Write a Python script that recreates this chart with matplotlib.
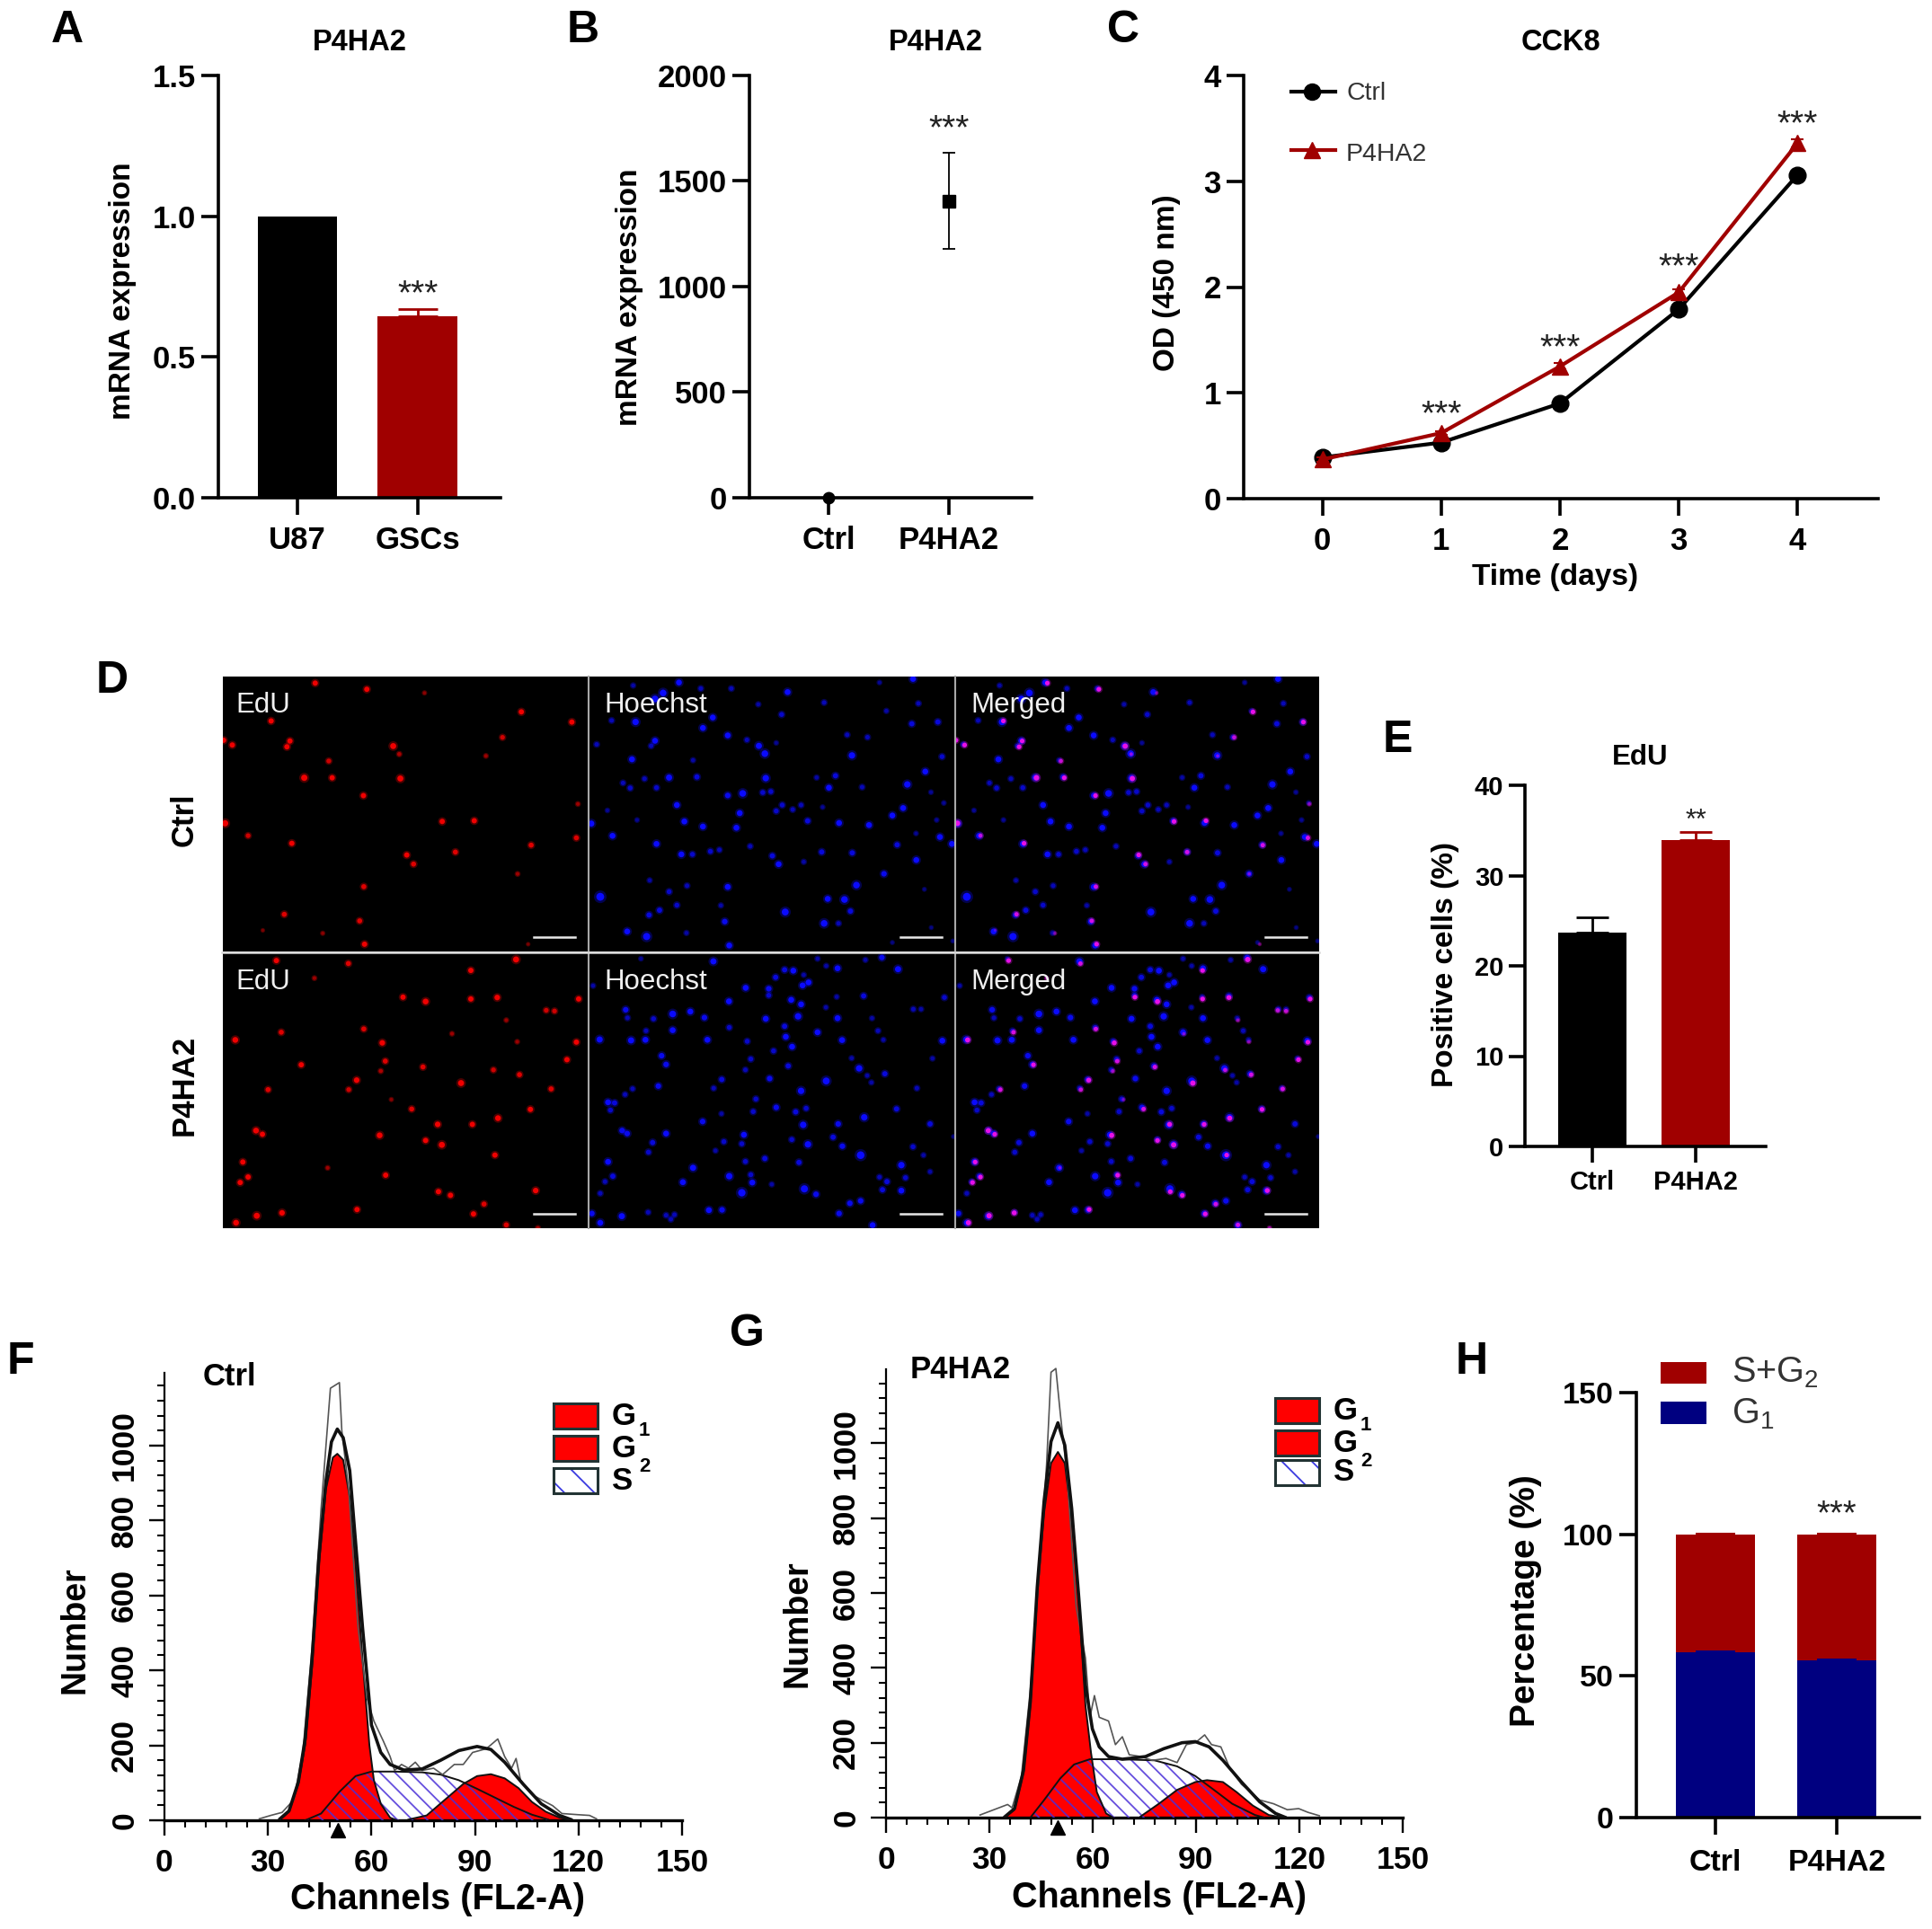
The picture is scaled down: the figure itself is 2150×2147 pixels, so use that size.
import numpy as np
import matplotlib
matplotlib.use('Agg')
import matplotlib.pyplot as plt
from matplotlib.patches import Rectangle
from matplotlib.ticker import MultipleLocator

plt.rcParams['font.family'] = ['Liberation Sans', 'DejaVu Sans']
plt.rcParams['font.weight'] = 'bold'
plt.rcParams['axes.labelweight'] = 'bold'
plt.rcParams['mathtext.default'] = 'regular'
plt.rcParams['hatch.linewidth'] = 1.3

W, H = 2150, 2147
DARK_RED = '#a00000'
NAVY = '#000080'

# --- bar / line panels ---
a_labels = ['U87', 'GSCs']
a_values = [1.0, 0.645]
a_err = [0.0, 0.025]

b_labels = ['Ctrl', 'P4HA2']
b_values = [1, 1405]
b_err = [8, 228]

c_days = [0, 1, 2, 3, 4]
c_ctrl = [0.39, 0.53, 0.90, 1.79, 3.06]
c_ctrl_err = [0.02, 0.02, 0.02, 0.03, 0.03]
c_p4ha2 = [0.37, 0.62, 1.25, 1.95, 3.36]
c_p4ha2_err = [0.02, 0.02, 0.03, 0.03, 0.04]
c_stars = [0.854, 1.48, 2.245, 3.595]

e_labels = ['Ctrl', 'P4HA2']
e_values = [23.7, 33.9]
e_err = [1.7, 0.9]

h_labels = ['Ctrl', 'P4HA2']
h_g1 = [58.3, 55.6]
h_g1_err = [0.3, 0.3]
h_sg2 = [41.7, 44.4]
h_sg2_err = [0.3, 0.3]

# --- flow cytometry, channel / count pairs ---
f_g1 = [(33.5, 2), (36.1, 23), (38.8, 97), (40.8, 202), (42.8, 412), (44.8, 685), (46.8, 884), (48.8, 968),
        (50.1, 978), (51.8, 962), (53.7, 862), (55.4, 683), (57.4, 431), (59.4, 200), (60.7, 107), (62.7, 44),
        (65.4, 7), (67.4, 0)]
f_g2 = [(70.7, 2), (76, 13), (81.3, 55), (86.6, 97), (90.6, 118), (94.6, 123), (98.6, 112), (102.6, 86),
        (106.5, 49), (110.5, 23), (114.5, 7), (117.8, 0)]
f_s = [(40.8, 0), (45.4, 18), (50.7, 76), (55.4, 118), (60, 130), (66.7, 130), (74.7, 128), (80, 122),
       (85.3, 107), (90.6, 84), (95.9, 60), (101.2, 36), (106.5, 15), (111.2, 2)]
f_fit = [(33.5, 4), (36.1, 25), (38.8, 102), (40.8, 218), (42.8, 433), (44.8, 706), (46.8, 905), (48.4, 1010),
         (50.1, 1044), (51.8, 1021), (53.7, 933), (57.4, 515), (60, 254), (62.7, 181), (65.4, 149), (69.4, 134),
         (74.7, 137), (80, 160), (85.3, 186), (90.6, 197), (94.6, 189), (98.6, 155), (103.9, 97), (109.2, 44),
         (114.5, 13), (117.8, 2)]
f_raw = [(27.5, 4), (30.8, 13), (34.1, 21), (37.5, 55), (40.1, 181), (42.8, 464), (45.4, 832), (48.1, 1153),
         (50.7, 1168), (51.4, 1040), (53.4, 882), (56.1, 515), (58.7, 326), (60.7, 265), (63.4, 212), (65.4, 170),
         (66.7, 133), (68.7, 149), (70.7, 139), (72.7, 155), (74.7, 133), (78, 139), (80.6, 122), (84, 149),
         (86.6, 149), (89.3, 181), (93.3, 191), (96.6, 217), (98.6, 170), (100.6, 139), (101.9, 165), (103.2, 107),
         (107.2, 65), (112.5, 39), (115.2, 18), (119.8, 15), (123.2, 13), (125.2, 4)]

g_g1 = [(34.6, 1), (37.3, 21), (39.9, 121), (41.9, 300), (43.9, 595), (45.9, 816), (47.9, 947), (49.9, 977),
        (51.9, 947), (53.9, 795), (55.9, 584), (57.9, 300), (59.5, 174), (61.2, 68), (63.9, 11), (65.9, 0)]
g_g2 = [(73.9, 3), (79.2, 37), (84.5, 74), (89.8, 95), (93.2, 100), (97.8, 95), (101.8, 68), (106.5, 32),
        (111.1, 7), (115.1, 0)]
g_s = [(41.9, 0), (45.9, 47), (50.6, 105), (54.6, 142), (59.2, 156), (67.2, 156), (77.9, 153), (84.5, 137),
       (89.8, 111), (95.2, 74), (100.5, 37), (107.1, 7), (109.8, 0)]
g_fit = [(34.6, 3), (37.3, 24), (39.9, 126), (41.9, 311), (43.9, 616), (45.9, 847), (47.9, 1005), (49.9, 1055),
         (51.9, 995), (53.9, 826), (55.9, 595), (57.9, 353), (59.9, 237), (61.9, 189), (64.6, 163), (68.6, 156),
         (75.3, 163), (80.6, 184), (85.9, 200), (89.8, 203), (93.8, 189), (97.8, 153), (103.2, 95), (108.5, 42),
         (113.1, 11), (115.8, 1)]
g_raw = [(27.3, 7), (31.3, 21), (35.3, 35), (36.6, 26), (39.3, 110), (41.9, 342), (44.6, 668), (46.6, 942),
         (47.9, 1190), (49.3, 1200), (50.6, 1079), (52.6, 911), (55.2, 563), (57.9, 426), (59.2, 268), (60.5, 326),
         (61.9, 268), (64.6, 258), (66.6, 195), (68.6, 216), (70.6, 168), (74, 163), (77.3, 153), (81.3, 158),
         (84.5, 147), (87.2, 195), (89.8, 200), (92.5, 221), (94.5, 195), (97.2, 189), (99.8, 132), (103.2, 89),
         (108.5, 47), (112.5, 37), (116.5, 21), (119.8, 24), (122.5, 14), (125.8, 5)]

red_ctrl = [(285, 48, 1), (422, 65, 1), (575, 75, .4), (832, 127, 1), (168, 152, 1), (966, 155, 1), (42, 205, 1),
            (65, 218, 1), (218, 207, 1), (210, 223, 1), (492, 221, 1.3), (508, 243, .6), (782, 197, .8), (738, 248, .5),
            (321, 262, .8), (256, 308, 1.4), (330, 308, 1), (511, 310, 1.3), (413, 357, 1), (982, 380, .5),
            (46, 433, 1.4), (622, 428, 1), (707, 426, 1), (107, 467, .8), (223, 488, 1), (978, 473, .9), (858, 493, .9),
            (528, 520, 1), (657, 512, .9), (546, 545, .9), (822, 572, .5), (414, 607, .9), (203, 683, .9), (403, 701, .9),
            (305, 735, .4), (146, 727, .3), (416, 765, 1), (850, 765, .3)]
red_p4ha2 = [(182, 805, 1), (373, 813, .9), (818, 802, 1.3), (698, 832, 1), (283, 853, .5), (518, 905, 1), (578, 917, 1.2),
             (698, 910, 1), (768, 906, 1.1), (984, 910, 1), (898, 941, .8), (920, 943, .8), (792, 968, .5), (195, 1001, .9),
             (414, 992, .9), (73, 1022, 1.2), (463, 1030, 1.1), (648, 1005, .5), (821, 1027, .5), (978, 1028, 1),
             (953, 1076, 1), (471, 1080, .9), (248, 1090, 1), (571, 1096, .9), (459, 1107, .6), (758, 1104, .8),
             (827, 1117, .9), (395, 1132, 1.1), (672, 1140, 1.3), (160, 1158, .9), (374, 1158, .8), (911, 1156, .9),
             (487, 1185, .4), (541, 1211, .9), (856, 1212, 1), (770, 1236, 1.2), (610, 1253, 1.1), (702, 1253, 1),
             (128, 1270, 1.2), (145, 1280, 1), (456, 1283, 1.2), (578, 1297, 1), (621, 1309, 1.3), (762, 1337, 1),
             (93, 1356, 1), (318, 1372, .5), (107, 1397, 1), (86, 1412, 1), (472, 1392, 1), (612, 1437, 1), (644, 1447, 1),
             (870, 1434, 1.1), (733, 1471, .9), (396, 1486, 1), (197, 1495, 1.1), (130, 1503, 1.3), (705, 1498, 1),
             (75, 1522, 1.2), (792, 1528, .9), (876, 1537, .6)]
blue_ctrl = [(305, 60, 1), (1087, 48, 1), (152, 70, .5), (378, 80, .6), (480, 80, .6), (668, 92, 1), (975, 60, .4),
             (252, 95, 1.3), (225, 115, 1.3), (790, 127, .6), (570, 133, .5), (1105, 130, .6), (998, 155, .5), (648, 167, .7),
             (418, 177, 1), (80, 187, .6), (160, 192, 1.2), (1083, 198, .8), (1170, 192, .8), (385, 212, 1), (468, 237, 1),
             (867, 235, .6), (935, 243, .6), (532, 252, .6), (630, 262, .4), (225, 255, 1), (30, 267, .6), (212, 272, .6),
             (572, 272, 1.1), (592, 298, 1.3), (883, 304, 1.2), (1184, 308, .7), (148, 317, 1), (352, 320, .5), (1128, 358, 1),
             (272, 378, 1.1), (365, 376, .8), (595, 380, 1.2), (765, 378, .5), (828, 372, .8), (190, 382, .6), (118, 396, .6),
             (142, 413, .7), (230, 412, .7), (806, 412, 1), (917, 410, .6), (1068, 401, 1.2), (518, 431, 1.3), (468, 438, .9),
             (585, 428, .7), (612, 425, .7), (1147, 427, .4), (298, 470, 1), (650, 470, .7), (713, 470, .6), (630, 490, .7),
             (685, 485, .6), (785, 477, .4), (1190, 463, .4), (1054, 480, 1), (66, 488, .4), (508, 497, 1), (1018, 505, 1),
             (165, 520, .4), (323, 525, 1), (735, 523, .8), (840, 530, 1), (385, 542, 1), (497, 546, 1), (940, 537, 1),
             (12, 532, 1.1), (1166, 520, .4), (83, 573, 1), (1097, 565, .4), (1177, 577, 1), (230, 600, 1), (1217, 600, 1),
             (1034, 603, .8), (543, 608, .6), (313, 635, 1), (350, 635, .7), (410, 625, .7), (440, 620, .6), (617, 640, .8),
             (782, 627, .8), (884, 630, .8), (722, 660, .5), (638, 668, 1), (1098, 654, 1), (990, 700, .9), (207, 722, .5),
             (332, 740, .6), (468, 744, 1), (898, 738, 1.3), (1125, 752, .3), (272, 760, .7), (42, 777, 1.8), (802, 784, 1),
             (858, 786, 1.3), (298, 805, .7), (445, 806, .5), (240, 822, .8), (205, 838, .8), (660, 828, 1.4), (878, 825, .8),
             (458, 860, .9), (790, 866, 1.3), (838, 866, .6), (132, 893, 1), (197, 910, 1.5), (330, 898, .5), (1148, 880, .3),
             (473, 940, 1), (1018, 930, .3), (1220, 925, .3)]
blue_p4ha2 = [(178, 18, .4), (420, 27, 1.1), (768, 18, .5), (983, 14, .9), (928, 22, .5), (18, 108, .5), (797, 42, .5),
              (658, 55, .8), (687, 58, 1), (835, 50, 1), (1037, 53, 1.1), (628, 80, .8), (722, 72, .5), (738, 97, 1),
              (718, 107, 1), (528, 115, 1), (605, 118, .9), (605, 140, .7), (922, 142, .8), (832, 145, .5), (1192, 147, .7),
              (472, 160, 1), (680, 155, 1), (713, 170, 1), (796, 180, .5), (127, 188, .9), (284, 202, 1.3), (343, 194, 1),
              (1088, 186, .6), (1114, 186, .5), (133, 215, .6), (220, 218, .7), (390, 214, .9), (595, 218, 1), (703, 210, 1.2),
              (835, 216, 1), (950, 216, .5), (658, 243, .8), (473, 247, .7), (195, 258, .6), (284, 256, 1), (768, 263, 1),
              (970, 258, .6), (40, 287, 1.1), (145, 290, 1.1), (193, 288, 1), (400, 288, 1), (533, 293, .7), (662, 278, 1),
              (850, 289, 1), (988, 288, .5), (1185, 291, 1), (683, 311, 1), (621, 325, .7), (247, 341, .9), (262, 370, .9),
              (545, 352, .7), (882, 349, .5), (1152, 350, .5), (670, 375, .8), (527, 388, .6), (907, 383, 1.2), (993, 401, .8),
              (934, 407, .5), (608, 417, .9), (448, 420, .8), (797, 425, 1.4), (948, 430, .5), (236, 442, .9), (421, 449, .6),
              (150, 451, .6), (125, 470, .6), (1100, 449, .6), (713, 458, 1.2), (562, 485, .7), (68, 496, 1), (90, 498, .8),
              (76, 522, .7), (630, 513, .9), (730, 516, .7), (695, 528, .8), (553, 527, .7), (447, 534, .5), (1032, 518, .8),
              (924, 546, 1.2), (384, 560, .9), (837, 568, .9), (720, 571, 1.2), (1144, 568, .8), (115, 590, .9), (132, 600, .9),
              (262, 600, 1), (522, 604, 1), (820, 612, .8), (682, 620, .7), (455, 627, .7), (515, 634, .7), (736, 636, 1.2),
              (217, 630, .8), (851, 642, .9), (1087, 644, .7), (427, 657, .5), (203, 662, .7), (912, 672, 1.7), (1122, 672, .5),
              (592, 683, .8), (68, 694, 1), (527, 693, .7), (706, 696, .8), (1048, 705, 1.2), (352, 714, 1.1), (1144, 727, .5),
              (84, 742, .8), (473, 742, 1.2), (545, 737, .7), (58, 760, .6), (318, 762, 1), (550, 763, 1), (975, 745, .6),
              (1000, 760, .8), (1062, 747, .7), (615, 769, .5), (724, 784, 1.5), (985, 787, .8), (1048, 790, 1), (42, 799, .6),
              (515, 797, 1.6), (763, 802, .9), (912, 824, .9), (876, 832, .9), (405, 855, 1), (449, 854, .9), (202, 862, .6),
              (14, 866, .9), (114, 875, 1.1), (262, 872, .6), (290, 870, .6), (278, 885, .6), (840, 866, .9), (42, 897, 1),
              (952, 905, 1), (1222, 610, .3)]
red_ctrl_frame = (40, 1008, 30, 785)
red_p4ha2_frame = (40, 1008, 785, 1537)
blue_ctrl_frame = (3, 1225, 40, 960)
blue_p4ha2_frame = (3, 1225, 0, 915)

fig = plt.figure(figsize=(W / 100, H / 100), dpi=100, facecolor='white')


def px_axes(left, right, top, bottom, **kw):
    return fig.add_axes([left / W, 1 - bottom / H, (right - left) / W, (bottom - top) / H], **kw)


# overlay in picture pixels for letters, legends and annotations
ov = fig.add_axes([0, 0, 1, 1], zorder=10)
ov.set_xlim(0, W)
ov.set_ylim(H, 0)
ov.axis('off')


def prism_axes(left, right, top, bottom, xlim, ylim, yticks, labels, tick_fs, lab_pad=8):
    ax = px_axes(left, right, top, bottom)
    ax.set_xlim(*xlim)
    ax.set_ylim(*ylim)
    for s in ['top', 'right']:
        ax.spines[s].set_visible(False)
    for s in ['left', 'bottom']:
        ax.spines[s].set_linewidth(2.6)
    ax.set_yticks(yticks)
    ax.set_xticks(range(len(labels)) if labels else [])
    if labels:
        ax.set_xticklabels(labels)
    ax.tick_params(axis='both', length=14, width=2.6, labelsize=tick_fs)
    ax.tick_params(axis='x', pad=lab_pad)
    ax.tick_params(axis='y', pad=4)
    return ax


def ylab(ax, text, x, y, fs=24, **kw):
    ax.set_ylabel(text, fontsize=fs, va='center', ha='center', **kw)
    ax.yaxis.set_label_coords(x, y, transform=ov.transData)


def xlab(ax, text, x, y, fs=24):
    ax.set_xlabel(text, fontsize=fs, va='center', ha='center')
    ax.xaxis.set_label_coords(x, y, transform=ov.transData)


def stars(ax, x, y, text='***', fs=28):
    # asterisks sit high in the em box, so hang them from the baseline
    ax.annotate(text, xy=(x, y), xytext=(0, -0.45 * fs), textcoords='offset points', ha='center', va='baseline',
                fontsize=fs, fontweight='normal', color='#222222', annotation_clip=False)


# A
ax = prism_axes(243, 557, 84, 554, (-0.657, 1.687), (0, 1.5), [0, 0.5, 1.0, 1.5], a_labels, 25)
ax.set_yticklabels(['0.0', '0.5', '1.0', '1.5'])
ax.bar([0, 1], a_values, width=0.664, color=['black', DARK_RED])
ax.errorbar([1], [a_values[1]], yerr=[[0], [a_err[1]]], color=DARK_RED, capsize=16, capthick=2, elinewidth=2, fmt='none')
stars(ax, 1, 0.744)
ylab(ax, 'mRNA expression', 136, 324)

# B
ax = prism_axes(834, 1148, 84, 554, (-0.657, 1.687), (0, 2000), [0, 500, 1000, 1500, 2000], b_labels, 25)
ax.errorbar([0], [b_values[0]], yerr=[b_err[0]], color='black', fmt='o', ms=9, clip_on=False, zorder=5)
ax.errorbar([1], [b_values[1]], yerr=[b_err[1]], color='black', fmt='s', ms=10, capsize=5, capthick=1.3,
            elinewidth=1.3, clip_on=False, zorder=5)
stars(ax, 1, 1776)
ylab(ax, 'mRNA expression', 700, 331)

# C
ax = prism_axes(1384, 2090, 84, 555, (-0.662, 4.678), (0, 4), [0, 1, 2, 3, 4], [str(d) for d in c_days], 25)
ax.errorbar(c_days, c_ctrl, yerr=c_ctrl_err, fmt='-o', color='black', lw=3, ms=13.5, capsize=5, capthick=1.5,
            clip_on=False, zorder=4)
ax.errorbar(c_days, c_p4ha2, yerr=c_p4ha2_err, fmt='-^', color=DARK_RED, lw=3, ms=13.5, capsize=5, capthick=1.5,
            clip_on=False, zorder=5)
for d, y in zip(c_days[1:], c_stars):
    stars(ax, d, y)
ylab(ax, 'OD (450 nm)', 1299, 315)
xlab(ax, 'Time (days)', 1730, 643)
ov.plot([1437, 1486], [102, 102], '-', color='black', lw=3)
ov.plot([1460], [102], 'o', color='black', ms=13)
ov.plot([1437, 1486], [167, 167], '-', color=DARK_RED, lw=3)
ov.plot([1460], [167], '^', color=DARK_RED, ms=13)
ov.text(1498, 104, 'Ctrl', fontsize=20.5, fontweight='normal', color='#333333', va='center')
ov.text(1498, 172, 'P4HA2', fontsize=20.5, fontweight='normal', color='#333333', va='center')


# D
def norm(cells, frame):
    arr = np.array(cells, dtype=float)
    x0, x1, y0, y1 = frame
    return (arr[:, 0] - x0) / (x1 - x0), (arr[:, 1] - y0) / (y1 - y0), arr[:, 2]


def spots(ax, cells, frame, color, base=18):
    x, y, b = norm(cells, frame)
    ax.scatter(x, y, s=base * 2.6 * b, c=color, alpha=0.3, linewidths=0, zorder=2)
    ax.scatter(x, y, s=base * b, c=color, alpha=np.clip(b, 0.25, 1), linewidths=0, zorder=3)


col_edges = [(248, 654), (655, 1062), (1063, 1468)]
row_edges = [(753, 1059), (1061, 1367)]
row_cells = [(red_ctrl, red_ctrl_frame, blue_ctrl, blue_ctrl_frame),
             (red_p4ha2, red_p4ha2_frame, blue_p4ha2, blue_p4ha2_frame)]
names = ['EdU', 'Hoechst', 'Merged']
for r, (top, bottom) in enumerate(row_edges):
    rc, rf, bc, bf = row_cells[r]
    for c, (left, right) in enumerate(col_edges):
        ax = px_axes(left, right, top, bottom, facecolor='black')
        ax.set_xlim(0, 1)
        ax.set_ylim(1, 0)
        ax.set_xticks([])
        ax.set_yticks([])
        for s in ax.spines.values():
            s.set_visible(False)
        if c == 0:
            spots(ax, rc, rf, '#f00000')
        if c == 1:
            spots(ax, bc, bf, '#0a0aff', base=22)
        if c == 2:
            spots(ax, bc, bf, '#0a0aff', base=22)
            spots(ax, rc, rf, '#e810e8', base=14)
        ov.text(left + (14 if c == 0 else 17), top + 32, names[c], fontsize=22.5, fontweight='normal', color='#f0f0f0',
                va='center', ha='left')
        ov.plot([right - 60, right - 14], [bottom - 16, bottom - 16], '-', color='#e8e8e8', lw=1.8)
for xv in [654.5, 1062.5]:
    ov.plot([xv, xv], [753, 1367], '-', color='#a8a8a8', lw=1.5)
ov.plot([247, 1468], [1060, 1060], '-', color='#d8d8d8', lw=1.8)
ov.text(205, 912, 'Ctrl', fontsize=25, rotation=90, ha='center', va='center')
ov.text(205, 1208, 'P4HA2', fontsize=25, rotation=90, ha='center', va='center')

# E
ax = prism_axes(1697, 1965, 874, 1276, (-0.652, 1.678), (0, 40), [0, 10, 20, 30, 40], e_labels, 21, lab_pad=6)
ax.tick_params(axis='both', length=13)
ax.bar([0, 1], e_values, width=0.66, color=['black', DARK_RED])
ax.errorbar([0], [e_values[0]], yerr=[[0], [e_err[0]]], color='black', capsize=13, capthick=2, elinewidth=2, fmt='none')
ax.errorbar([1], [e_values[1]], yerr=[[0], [e_err[1]]], color=DARK_RED, capsize=13, capthick=2, elinewidth=2, fmt='none')
stars(ax, 1, 36.6, '**', 22)
ylab(ax, 'Positive cells (%)', 1608, 1074)


# F, G
def flow_axes(left, right, top, bottom, ymax, g1, g2, s, fit, raw, tri_x, tri_y):
    ax = px_axes(left, right, top, bottom)
    ax.set_xlim(0, 150)
    ax.set_ylim(0, ymax)
    for sp in ['top', 'right']:
        ax.spines[sp].set_visible(False)
    ax.spines['left'].set_linewidth(1.6)
    ax.spines['bottom'].set_linewidth(2.4)
    ax.xaxis.set_major_locator(MultipleLocator(30))
    ax.xaxis.set_minor_locator(MultipleLocator(6))
    ax.yaxis.set_major_locator(MultipleLocator(200))
    ax.yaxis.set_minor_locator(MultipleLocator(40))
    ax.tick_params(which='major', length=12, width=1.7, labelsize=25.5)
    ax.tick_params(which='minor', length=6, width=1.5)
    ax.tick_params(axis='x', pad=10)
    ax.tick_params(axis='y', pad=8, labelrotation=90)
    for t in ax.get_yticklabels():
        t.set_va('center')
    sx, sy = np.array(s, dtype=float).T
    ax.fill_between(sx, 0, sy, facecolor='white', linewidth=0, zorder=1)
    for curve in (g1, g2):
        cx, cy = np.array(curve, dtype=float).T
        ax.fill_between(cx, 0, cy, facecolor='#ff0000', linewidth=0, zorder=2)
    ax.fill_between(sx, 0, sy, facecolor='none', edgecolor='#4a30d8', hatch='\\\\', linewidth=0, alpha=0.85, zorder=3)
    for curve in (g1, g2, s):
        cx, cy = np.array(curve, dtype=float).T
        ax.plot(cx, cy, color='#111111', lw=1.4, zorder=4)
    rx, ry = np.array(raw, dtype=float).T
    ax.plot(rx, ry, color='#555555', lw=1.2, zorder=5, clip_on=False)
    fx, fy = np.array(fit, dtype=float).T
    ax.plot(fx, fy, color='#111111', lw=2.6, zorder=6)
    ax.plot([tri_x], [tri_y], '^', color='black', ms=12, clip_on=False, zorder=7)
    return ax


ax = flow_axes(183, 759, 1528, 2026, 1194, f_g1, f_g2, f_s, f_fit, f_raw, 50.2, -26)
ylab(ax, 'Number', 84, 1814, fs=27)
xlab(ax, 'Channels (FL2-A)', 487, 2114, fs=28.5)
ax = flow_axes(986, 1561, 1524, 2023, 1198, g_g1, g_g2, g_s, g_fit, g_raw, 49.7, -26)
ylab(ax, 'Number', 888, 1807, fs=27)
xlab(ax, 'Channels (FL2-A)', 1290, 2112, fs=28.5)

ov.text(255, 1532, 'Ctrl', fontsize=25, ha='center', va='center')
ov.text(1069, 1525, 'P4HA2', fontsize=25, ha='center', va='center')


def flow_legend(x, ys):
    for i, (y, name) in enumerate(zip(ys, ['G', 'G', 'S'])):
        if i < 2:
            ov.add_patch(Rectangle((x, y), 49, 28, facecolor='#ff0000', edgecolor='#223333', lw=2.2))
        else:
            ov.add_patch(Rectangle((x, y), 49, 28, facecolor='white', edgecolor='#3a3ae0', hatch='\\', lw=0))
            ov.add_patch(Rectangle((x, y), 49, 28, facecolor='none', edgecolor='#223333', lw=2.2))
        ov.text(x + 65, y + 14, name, fontsize=25, ha='left', va='center')
    ov.text(x + 101, ys[0] + 30, '1', fontsize=16, ha='center', va='center')
    ov.text(x + 101, ys[1] + 35, '2', fontsize=16, ha='center', va='center')


flow_legend(616, [1562, 1598, 1634])
flow_legend(1419, [1556, 1592, 1625])

# H
ax = prism_axes(1821, 2136, 1550, 2023, (-0.652, 1.681), (0, 150), [0, 50, 100, 150], h_labels, 24.5, lab_pad=11)
ax.bar([0, 1], h_g1, width=0.652, color=NAVY, zorder=2)
h_top = [a + b for a, b in zip(h_g1, h_sg2)]
ax.bar([0, 1], h_sg2, bottom=h_g1, width=0.652, color=DARK_RED, zorder=2)
ax.errorbar([0, 1], h_g1, yerr=[[0, 0], h_g1_err], color=NAVY, capsize=16, capthick=1.5, elinewidth=1.5, fmt='none', zorder=3)
ax.errorbar([0, 1], h_top, yerr=[[0, 0], h_sg2_err], color=DARK_RED, capsize=16, capthick=1.5, elinewidth=1.5, fmt='none', zorder=3)
stars(ax, 1, 108.9, '***', 27.5)
ylab(ax, 'Percentage (%)', 1698, 1782, fs=28)
ov.add_patch(Rectangle((1848, 1516), 51, 24, facecolor=DARK_RED, edgecolor='none'))
ov.add_patch(Rectangle((1848, 1560), 51, 25, facecolor=NAVY, edgecolor='none'))
ov.text(1927, 1528, 'S+G$_2$', fontsize=28.5, fontweight='normal', color='#333333', va='center')
ov.text(1927, 1574, 'G$_1$', fontsize=28.5, fontweight='normal', color='#333333', va='center')

# titles and panel letters
for x, y, t, fs in [(400, 47, 'P4HA2', 23.5), (1041, 47, 'P4HA2', 23.5), (1737, 47, 'CCK8', 23.5), (1825, 843, 'EdU', 22.5)]:
    ov.text(x, y, t, fontsize=fs, ha='center', va='center')
for x, y, t in [(75, 34, 'A'), (649, 34, 'B'), (1250, 34, 'C'), (125, 758, 'D'), (1555, 824, 'E'), (23, 1516, 'F'),
                (831, 1485, 'G'), (1638, 1516, 'H')]:
    ov.text(x, y, t, fontsize=36, ha='center', va='center')

fig.savefig('out.png', dpi=100, facecolor='white')
